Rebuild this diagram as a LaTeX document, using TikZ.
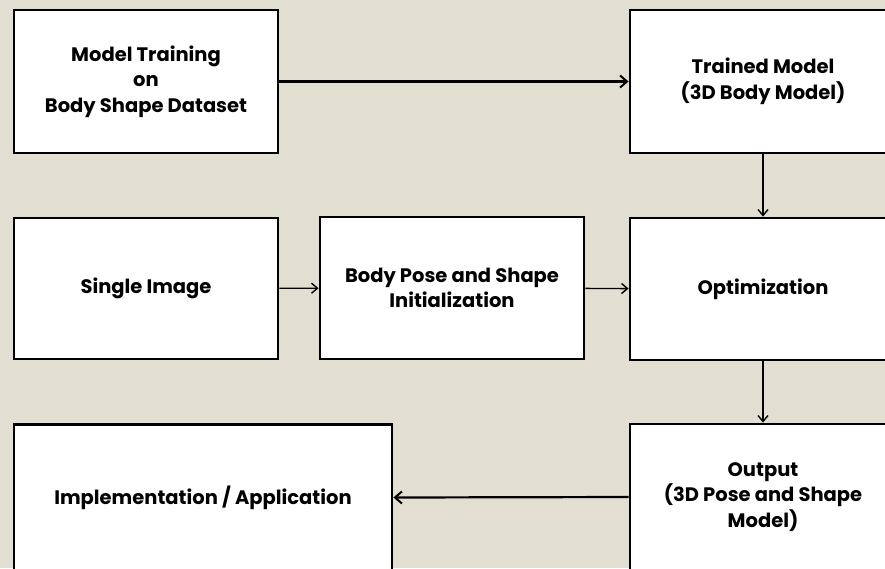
\documentclass[tikz,border=0pt]{standalone}
\usepackage{fontspec}
\setmainfont{Poppins}
\usetikzlibrary{arrows.meta}
\definecolor{bgc}{HTML}{E2DED1}
\begin{document}
\begin{tikzpicture}[x=1pt,y=-1pt,
  box/.style={draw=black, line width=2.8pt, fill=white, align=center, inner sep=0pt,
    font=\fontsize{19.5}{25.5}\selectfont\bfseries, minimum width=264pt, minimum height=143pt},
  conn/.style={line width=1.4pt, -{Straight Barb[length=6pt,width=10pt,line width=1.4pt]}},
  connb/.style={line width=2.2pt, -{Straight Barb[length=7pt,width=12pt,line width=2pt]}}]
\fill[bgc] (0,0) rectangle (885,568);
\useasboundingbox (0,0) rectangle (885,568);
\clip (0,0) rectangle (885,568);
\node[box] (train) at (146,81.5) {Model Training\\on\\Body Shape Dataset};
\node[box, minimum width=266pt] (trained) at (763,81.5) {Trained Model\\(3D Body Model)};
\node[box, minimum height=141pt] (single) at (146,288.5) {Single Image};
\node[box, minimum height=142pt] (init) at (452,288) {Body Pose and Shape\\Initialization};
\node[box, minimum width=266pt, minimum height=142pt] (opt) at (763,289) {Optimization};
\node[box, minimum width=266pt, minimum height=146pt] (out) at (763,497) {Output\\(3D Pose and Shape\\Model)};
\node[box, minimum width=378pt, minimum height=146pt] (impl) at (203,497.5) {Implementation / Application};
\draw[connb] (train) -- (trained);
\draw[conn] (trained) -- (opt);
\draw[conn] (single) -- (init);
\draw[conn] (init) -- (opt);
\draw[conn] (opt) -- (out);
\draw[connb] (out.west) -- (impl.east);
\end{tikzpicture}
\end{document}
